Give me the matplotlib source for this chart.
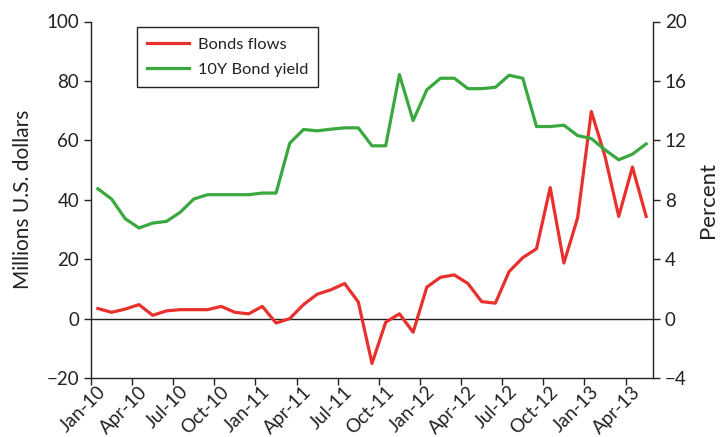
import matplotlib
matplotlib.use("Agg")
import matplotlib.pyplot as plt
import matplotlib.transforms as mtransforms
import numpy as np

plt.rcParams['font.family'] = ['Lato', 'DejaVu Sans']

months = ["Jan-10","Feb-10","Mar-10","Apr-10","May-10","Jun-10","Jul-10","Aug-10","Sep-10","Oct-10","Nov-10","Dec-10",
          "Jan-11","Feb-11","Mar-11","Apr-11","May-11","Jun-11","Jul-11","Aug-11","Sep-11","Oct-11","Nov-11","Dec-11",
          "Jan-12","Feb-12","Mar-12","Apr-12","May-12","Jun-12","Jul-12","Aug-12","Sep-12","Oct-12","Nov-12","Dec-12",
          "Jan-13","Feb-13","Mar-13","Apr-13","May-13"]

bond_flows = [3.4, 2.1, 3.2, 4.7, 1.1, 2.6, 3.0, 3.0, 3.0, 4.1, 2.1, 1.6,
              4.1, -1.5, 0.0, 4.7, 8.2, 9.7, 11.8, 5.6, -15.1, -1.2, 1.6, -4.6,
              10.6, 13.9, 14.7, 11.8, 5.7, 5.2, 15.8, 20.5, 23.5, 44.1, 18.7, 33.9,
              69.7, 54.6, 34.4, 51.0, 34.4]

bond_yield = [8.74, 8.05, 6.72, 6.10, 6.43, 6.54, 7.15, 8.05, 8.34, 8.34, 8.34, 8.34,
              8.45, 8.45, 11.81, 12.73, 12.64, 12.75, 12.84, 12.84, 11.63, 11.63, 16.43, 13.33,
              15.40, 16.18, 16.18, 15.48, 15.48, 15.57, 16.38, 16.18, 12.93, 12.93, 13.02, 12.32,
              12.12, 11.36, 10.69, 11.07, 11.76]

tick_labels = ["Jan-10","Apr-10","Jul-10","Oct-10","Jan-11","Apr-11","Jul-11","Oct-11",
               "Jan-12","Apr-12","Jul-12","Oct-12","Jan-13","Apr-13"]

red = '#E8302C'
green = '#3BA83F'
txt = '#222222'

fig = plt.figure(figsize=(7.2, 4.37), dpi=100)
ax = fig.add_axes([91/720, 1-378/437, (653-91)/720, (378-21.5)/437])
ax2 = ax.twinx()

x = np.arange(len(months))
l1, = ax.plot(x, bond_flows, color=red, lw=2.3, zorder=3)
l2, = ax2.plot(x, bond_yield, color=green, lw=2.3, zorder=3)

ax.axhline(0, color='#222222', lw=1.0, zorder=2)

ax.set_xlim(-0.5, len(months) - 0.5)
ax.set_ylim(-20, 100)
ax2.set_ylim(-4, 20)
ax.set_yticks([-20, 0, 20, 40, 60, 80, 100])
ax.set_yticklabels(['\u221220', '0', '20', '40', '60', '80', '100'])
ax2.set_yticks([-4, 0, 4, 8, 12, 16, 20])
ax2.set_yticklabels(['\u22124', '0', '4', '8', '12', '16', '20'])

tick_pos = [i * 3 - 0.5 for i in range(len(tick_labels))]
ax.set_xticks(tick_pos)
ax.set_xticklabels([])
base = mtransforms.blended_transform_factory(ax.transData, ax.transAxes)
offset = mtransforms.ScaledTranslation(12/100, -11/100, fig.dpi_scale_trans)
for p, lab in zip(tick_pos, tick_labels):
    ax.text(p, 0, lab, transform=base + offset, rotation=45, rotation_mode='anchor',
            ha='right', va='center', fontsize=13.5, color=txt, clip_on=False)

for a in (ax, ax2):
    a.spines['top'].set_visible(False)
    for s in a.spines.values():
        s.set_color('#222222')
        s.set_linewidth(1.0)
    a.tick_params(axis='both', direction='out', length=5, width=1.0, colors='#222222',
                  labelsize=13.5, labelcolor=txt)
ax.spines['right'].set_visible(False)
ax2.spines['left'].set_visible(False)
ax2.spines['bottom'].set_visible(False)

ax.set_ylabel('Millions U.S. dollars', fontsize=15, color=txt, labelpad=10)
ax2.set_ylabel('Percent', fontsize=16, color=txt, labelpad=8)

leg = ax.legend([l1, l2], ['Bonds flows', '10Y Bond yield'], loc='upper left',
                bbox_to_anchor=((136.7-91)/562, 1 - (27.3-21.5)/356.5),
                fancybox=False, framealpha=1, edgecolor='#222222', fontsize=11.8,
                handlelength=2.6, borderpad=0.62, labelspacing=0.62, handletextpad=0.5,
                borderaxespad=0)
leg.get_frame().set_linewidth(1.0)
for t in leg.get_texts():
    t.set_color(txt)

fig.savefig('out.png', dpi=100)
